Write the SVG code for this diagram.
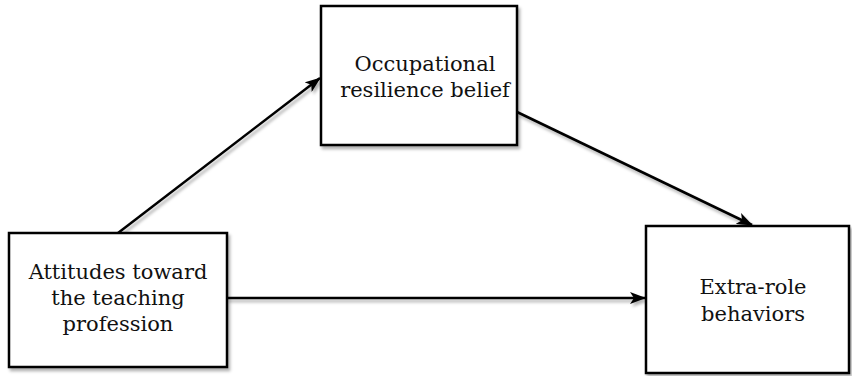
<svg xmlns="http://www.w3.org/2000/svg" width="852" height="376" viewBox="0 0 852 376">
<defs>
<filter id="sh" filterUnits="userSpaceOnUse" x="0" y="0" width="852" height="376">
<feDropShadow dx="2" dy="3" stdDeviation="1.5" flood-color="#000" flood-opacity="0.3"/>
</filter>
<marker id="ah" viewBox="0 0 16 12" markerWidth="16" markerHeight="12" refX="15" refY="6" orient="auto" markerUnits="userSpaceOnUse">
<path d="M0,0 L16,6 L0,12 L4,6 z" fill="#000"/>
</marker>
</defs>
<style>
.box{fill:#fff;stroke:#000;stroke-width:2.5;filter:url(#sh)}
.lbl{font-family:"DejaVu Serif","Liberation Serif",serif;font-size:21px;fill:#111;text-anchor:middle}
.con{stroke:#000;stroke-width:2.5;fill:none;marker-end:url(#ah);filter:url(#sh)}
</style>
<g id="connectors">
<line class="con" x1="118" y1="233" x2="320" y2="78"/>
<line class="con" x1="517" y1="112" x2="752" y2="225"/>
<line class="con" x1="227" y1="298" x2="645" y2="298"/>
</g>
<g id="n-resilience">
<rect class="box" x="321" y="6" width="196" height="139"/>
<text class="lbl" x="425" y="71">Occupational</text>
<text class="lbl" x="425" y="97">resilience belief</text>
</g>
<g id="n-attitudes">
<rect class="box" x="9" y="233" width="218" height="134"/>
<text class="lbl" x="118" y="279">Attitudes toward</text>
<text class="lbl" x="118" y="305">the teaching</text>
<text class="lbl" x="118" y="331">profession</text>
</g>
<g id="n-extrarole">
<rect class="box" x="646" y="226" width="203" height="147"/>
<text class="lbl" x="753" y="294">Extra-role</text>
<text class="lbl" x="753" y="321">behaviors</text>
</g>
</svg>
